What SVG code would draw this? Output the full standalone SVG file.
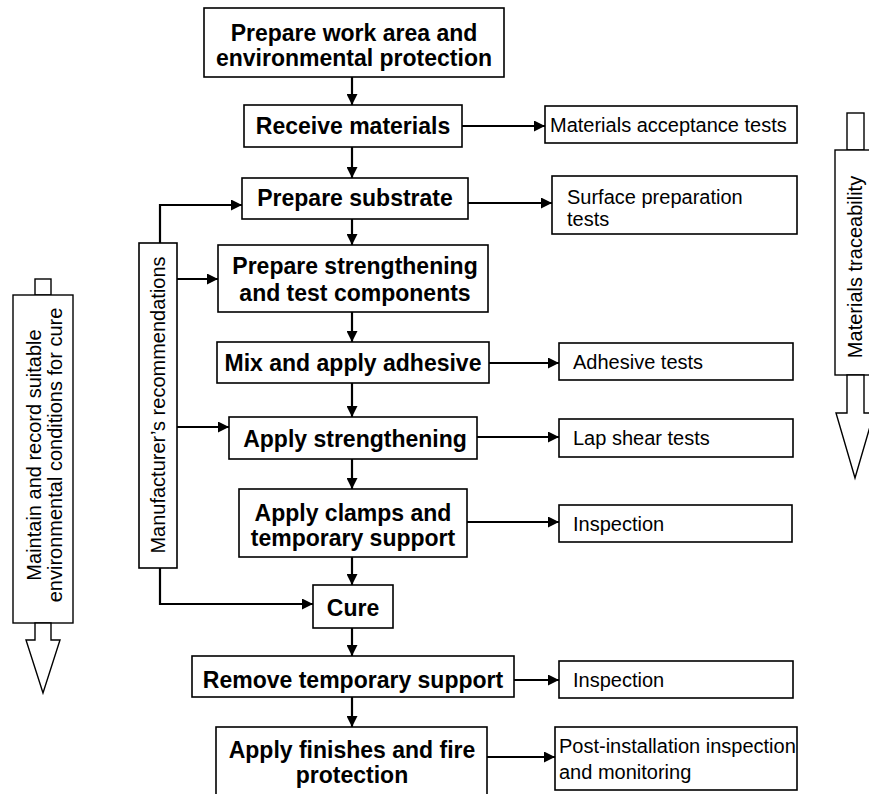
<svg xmlns="http://www.w3.org/2000/svg" width="869" height="794" viewBox="0 0 869 794">
<style>
.box{fill:#fff;stroke:#000;stroke-width:1.6}
.b{font-family:"Liberation Sans",Arial,sans-serif;font-weight:bold;font-size:23px;text-anchor:middle;fill:#000}
.n{font-family:"Liberation Sans",Arial,sans-serif;font-size:20px;fill:#000}
.c{stroke:#000;stroke-width:2.2;fill:none}
.blk{fill:#fff;stroke:#000;stroke-width:1.4}
</style>
<defs>
<marker id="ah" viewBox="0 0 10 10" refX="10" refY="5" markerWidth="5.5" markerHeight="5" orient="auto" markerUnits="strokeWidth">
<path d="M0,0 L10,5 L0,10 z" fill="#000"/>
</marker>
</defs>
<rect width="869" height="794" fill="#fff"/>

<g id="connectors">
<line class="c" x1="352" y1="77" x2="352" y2="105" marker-end="url(#ah)"/>
<line class="c" x1="352" y1="147" x2="352" y2="178" marker-end="url(#ah)"/>
<line class="c" x1="352" y1="219" x2="352" y2="245" marker-end="url(#ah)"/>
<line class="c" x1="352" y1="312" x2="352" y2="342" marker-end="url(#ah)"/>
<line class="c" x1="352" y1="383" x2="352" y2="417" marker-end="url(#ah)"/>
<line class="c" x1="352" y1="459" x2="352" y2="489" marker-end="url(#ah)"/>
<line class="c" x1="352" y1="557" x2="352" y2="585" marker-end="url(#ah)"/>
<line class="c" x1="352" y1="628" x2="352" y2="656" marker-end="url(#ah)"/>
<line class="c" x1="352" y1="697" x2="352" y2="727" marker-end="url(#ah)"/>
<line class="c" x1="462" y1="126" x2="545" y2="126" marker-end="url(#ah)"/>
<line class="c" x1="468" y1="203" x2="552" y2="203" marker-end="url(#ah)"/>
<line class="c" x1="489" y1="363" x2="559" y2="363" marker-end="url(#ah)"/>
<line class="c" x1="477" y1="437" x2="559" y2="437" marker-end="url(#ah)"/>
<line class="c" x1="467" y1="522" x2="559" y2="522" marker-end="url(#ah)"/>
<line class="c" x1="514" y1="680" x2="559" y2="680" marker-end="url(#ah)"/>
<line class="c" x1="487" y1="757" x2="555" y2="757" marker-end="url(#ah)"/>
<polyline class="c" points="160,243 160,205 242,205" marker-end="url(#ah)"/>
<line class="c" x1="177" y1="279" x2="218" y2="279" marker-end="url(#ah)"/>
<line class="c" x1="177" y1="427" x2="229" y2="427" marker-end="url(#ah)"/>
<polyline class="c" points="160,568 160,604 313,604" marker-end="url(#ah)"/>
</g>

<g id="n1"><rect class="box" x="204" y="8" width="300" height="69"/>
<text class="b" x="354" y="41">Prepare work area and</text>
<text class="b" x="354" y="66">environmental protection</text></g>

<g id="n2"><rect class="box" x="244" y="105" width="218" height="42"/>
<text class="b" x="353" y="134">Receive materials</text></g>

<g id="t1"><rect class="box" x="545" y="106" width="252" height="37"/>
<text class="n" x="550" y="132">Materials acceptance tests</text></g>

<g id="n3"><rect class="box" x="242" y="178" width="226" height="41"/>
<text class="b" x="355" y="206">Prepare substrate</text></g>

<g id="t2"><rect class="box" x="552" y="176" width="245" height="58"/>
<text class="n" x="567" y="204">Surface preparation</text>
<text class="n" x="567" y="226">tests</text></g>

<g id="n4"><rect class="box" x="218" y="245" width="270" height="67"/>
<text class="b" x="355" y="274">Prepare strengthening</text>
<text class="b" x="355" y="301">and test components</text></g>

<g id="n5"><rect class="box" x="217" y="342" width="272" height="41"/>
<text class="b" x="353" y="371">Mix and apply adhesive</text></g>

<g id="t3"><rect class="box" x="559" y="343" width="234" height="37"/>
<text class="n" x="573" y="369">Adhesive tests</text></g>

<g id="n6"><rect class="box" x="229" y="417" width="248" height="42"/>
<text class="b" x="355" y="447">Apply strengthening</text></g>

<g id="t4"><rect class="box" x="559" y="419" width="234" height="38"/>
<text class="n" x="573" y="445">Lap shear tests</text></g>

<g id="n7"><rect class="box" x="239" y="489" width="228" height="68"/>
<text class="b" x="353" y="521">Apply clamps and</text>
<text class="b" x="353" y="546">temporary support</text></g>

<g id="t5"><rect class="box" x="559" y="505" width="233" height="37"/>
<text class="n" x="573" y="531">Inspection</text></g>

<g id="n8"><rect class="box" x="313" y="585" width="80" height="43"/>
<text class="b" x="353" y="616">Cure</text></g>

<g id="n9"><rect class="box" x="192" y="656" width="322" height="41"/>
<text class="b" x="353" y="688">Remove temporary support</text></g>

<g id="t6"><rect class="box" x="559" y="661" width="234" height="37"/>
<text class="n" x="573" y="687">Inspection</text></g>

<g id="n10"><rect class="box" x="216" y="727" width="271" height="80"/>
<text class="b" x="352" y="758">Apply finishes and fire</text>
<text class="b" x="352" y="783">protection</text></g>

<g id="t7"><rect class="box" x="555" y="727" width="242" height="63"/>
<text class="n" x="559" y="753">Post-installation inspection</text>
<text class="n" x="559" y="779">and monitoring</text></g>

<g id="mfr"><rect class="box" x="139" y="243" width="38" height="325"/>
<text class="n" text-anchor="middle" transform="translate(165,405) rotate(-90)">Manufacturer’s recommendations</text></g>

<g id="env">
<rect class="blk" x="35" y="279" width="16" height="16"/>
<rect class="blk" x="13" y="295" width="60" height="328"/>
<polygon class="blk" points="35,623 35,640 26,640 43,693 60,640 51,640 51,623"/>
<text class="n" text-anchor="middle" transform="translate(41,455) rotate(-90)">Maintain and record suitable</text>
<text class="n" text-anchor="middle" transform="translate(62,455) rotate(-90)">environmental conditions for cure</text>
</g>

<g id="trace">
<rect class="blk" x="847" y="113" width="17" height="37"/>
<rect class="blk" x="835" y="150" width="40" height="225"/>
<polygon class="blk" points="847,375 847,413 836,413 855,478 874,413 864,413 864,375"/>
<text class="n" text-anchor="middle" transform="translate(862,267) rotate(-90)">Materials traceability</text>
</g>
</svg>
